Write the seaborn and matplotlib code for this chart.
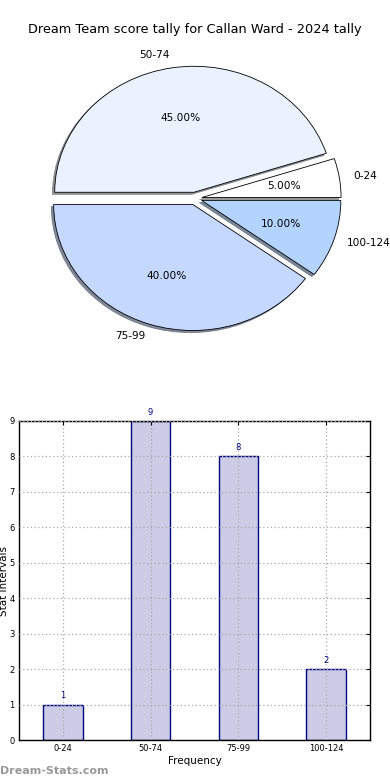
import matplotlib
matplotlib.use("Agg")
import matplotlib.pyplot as plt
import seaborn as sns
import pandas as pd

categories = ["0-24", "50-74", "75-99", "100-124"]
counts = [1, 9, 8, 2]
pie_colors = ["#FFFFFF", "#EAF1FF", "#C5D8FF", "#B3D4FF"]
title = "Dream Team score tally for Callan Ward - 2024 tally"

sns.set_style("white")
plt.rcParams['font.family'] = ['DejaVu Sans']
plt.rcParams['text.color'] = 'black'
plt.rcParams['axes.labelcolor'] = 'black'
plt.rcParams['xtick.color'] = 'black'
plt.rcParams['ytick.color'] = 'black'

fig = plt.figure(figsize=(3.9, 7.8), dpi=100)

# Pie
ax1 = fig.add_axes([21/390, 1-356/780, 348/390, 315/780])
wedges, texts, autotexts = ax1.pie(
    counts, labels=categories, colors=pie_colors, explode=[0.05]*4,
    autopct='%1.2f%%', startangle=0,
    shadow={'ox': -0.012, 'oy': -0.012, 'shade': 0.5, 'alpha': 0.8},
    wedgeprops=dict(edgecolor='black', linewidth=0.6),
    textprops=dict(fontsize=7.6, color='black'))
ax1.set_aspect('auto')
ax1.set_xlim(-1.25, 1.25)
ax1.set_ylim(-1.25, 1.25)
fig.text(0.5, 1-30/780, title, ha='center', va='center', fontsize=9.3, color='black')

# Bars
ax2 = fig.add_axes([19/390, 1-740/780, 351/390, 319/780])
df = pd.DataFrame({"interval": categories, "count": counts})
sns.barplot(data=df, x="interval", y="count", color="#CCCCE6", saturation=1,
            edgecolor="#000080", linewidth=1.0, width=0.45, ax=ax2)
ax2.set_xlim(-0.5, 3.5)
ax2.set_ylim(0, 9)
ax2.set_yticks(range(0, 10))
ax2.grid(True, linestyle=(0, (1, 2)), color='#aaaaaa', linewidth=0.9)
ax2.set_axisbelow(False)
for s in ax2.spines.values():
    s.set_color('black')
    s.set_linewidth(1.0)
ax2.tick_params(direction='in', top=True, right=True, labelsize=6, length=3, pad=3)
ax2.bar_label(ax2.containers[0], padding=3, color='#000080', fontsize=6)
ax2.set_xlabel("Frequency", fontsize=7.5, labelpad=2)
ax2.set_ylabel("Stat Intervals", fontsize=7.5, labelpad=0)

fig.text(0.0, 1-771/780, "Dream-Stats.com", ha='left', va='center', fontsize=8,
         color='#999999', fontweight='bold')

fig.savefig("out.png", dpi=100)
